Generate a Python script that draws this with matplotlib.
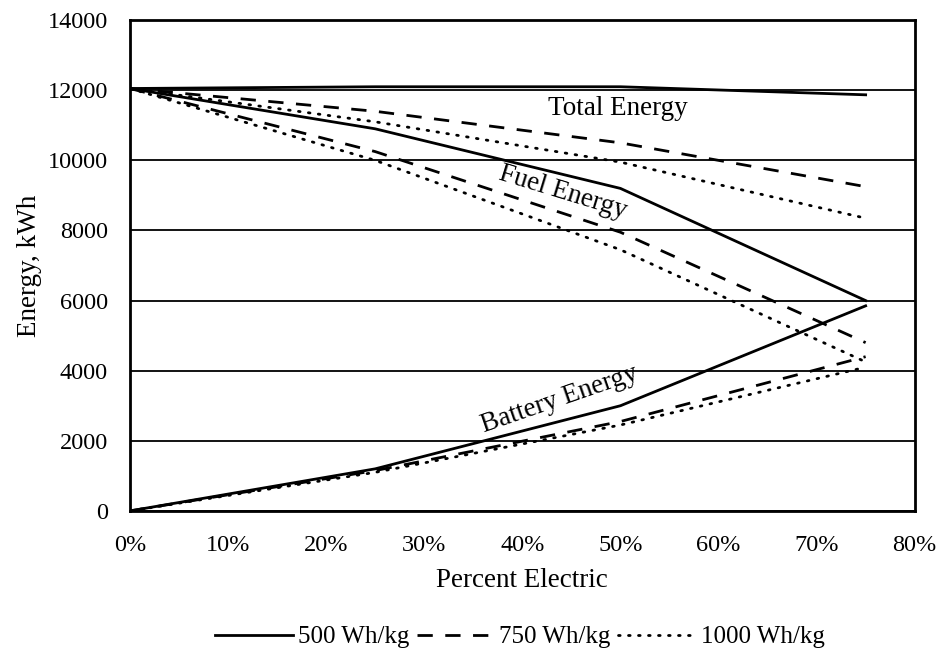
import matplotlib.pyplot as plt
from matplotlib.ticker import FuncFormatter

plt.rcParams['font.family'] = ['Liberation Serif', 'DejaVu Serif']

pct_electric = [0, 25, 50, 75]

# 500 Wh/kg
total_500 = [12050, 12100, 12100, 11870]
fuel_500 = [12050, 10900, 9200, 6000]
batt_500 = [0, 1200, 3000, 5850]

# 750 Wh/kg
total_750 = [12050, 11400, 10500, 9250]
fuel_750 = [12050, 10250, 7950, 4800]
batt_750 = [0, 1150, 2550, 4400]

# 1000 Wh/kg
total_1000 = [12050, 11100, 9950, 8350]
fuel_1000 = [12050, 10000, 7450, 4250]
batt_1000 = [0, 1100, 2450, 4100]

fig = plt.figure(figsize=(9.42, 6.5), dpi=100)
ax = fig.add_axes([0.138, 0.214, 0.833, 0.755])

lw = 2.0
solid = dict(color='black', lw=lw, ls='-')
dashed = dict(color='black', lw=lw, ls=(0, (5.5, 4.5)))
dotted = dict(color='black', lw=lw, ls=(0, (0.6, 3.0)), dash_capstyle='round')

ax.plot(pct_electric, total_500, label='500 Wh/kg', **solid)
ax.plot(pct_electric, fuel_500, **solid)
ax.plot(pct_electric, batt_500, **solid)
ax.plot(pct_electric, total_750, label='750 Wh/kg', **dashed)
ax.plot(pct_electric, fuel_750, **dashed)
ax.plot(pct_electric, batt_750, **dashed)
ax.plot(pct_electric, total_1000, label='1000 Wh/kg', **dotted)
ax.plot(pct_electric, fuel_1000, **dotted)
ax.plot(pct_electric, batt_1000, **dotted)

ax.set_xlim(0, 80)
ax.set_ylim(0, 14000)
ax.set_xticks(range(0, 81, 10))
ax.set_yticks(range(0, 14001, 2000))
ax.xaxis.set_major_formatter(FuncFormatter(lambda v, p: f'{int(v)}%'))
ax.tick_params(length=0, labelsize=17.5)
ax.tick_params(axis='y', pad=16)
ax.tick_params(axis='x', pad=17)
ax.yaxis.grid(True, color='black', lw=1.3)
ax.set_axisbelow(True)
for s in ax.spines.values():
    s.set_linewidth(2)

ax.set_xlabel('Percent Electric', fontsize=19.5, labelpad=9)
ax.set_ylabel('Energy, kWh', fontsize=19.5, labelpad=4)

ax.text(49.7, 11490, 'Total Energy', fontsize=19.5, ha='center', va='center')
ax.text(44.1, 9100, 'Fuel Energy', fontsize=19.5, ha='center', va='center', rotation=-17)
ax.text(43.8, 3170, 'Battery Energy', fontsize=19.5, ha='center', va='center', rotation=19)

fig.legend(loc='center', bbox_to_anchor=(0.552, 0.02), ncol=3, frameon=False,
           fontsize=18, handlelength=3.1, columnspacing=0.3, handletextpad=0.2)

fig.savefig('out.png', dpi=100)
